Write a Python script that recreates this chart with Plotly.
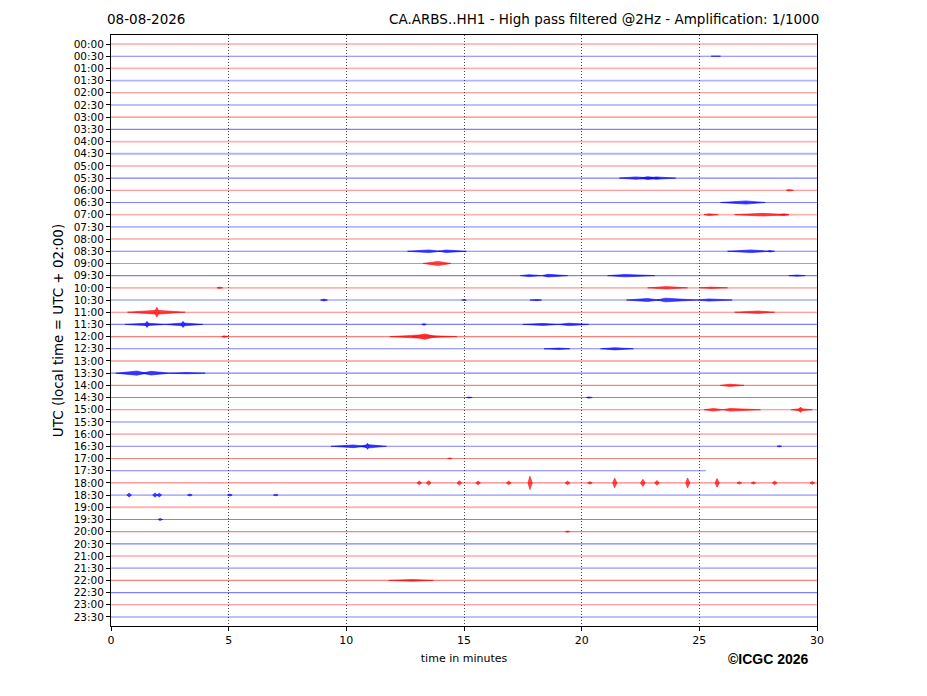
import plotly.graph_objects as go

# ---------------- data ----------------
row_labels = ["%02d:%02d" % (h, m) for h in range(24) for m in (0, 30)]
row_colors = ["red" if i % 2 == 0 else "blue" for i in range(48)]
# 1 = noisier trace (drawn lighter/thicker)
row_noise = [0, 0, 1, 1, 0, 0, 0, 0, 1, 1, 0, 0, 0, 0, 1, 1, 0, 0, 0, 0, 1, 0, 0, 0,
             0, 0, 1, 0, 0, 0, 0, 0, 1, 0, 0, 0, 0, 1, 1, 0, 0, 0, 0, 1, 0, 0, 0, 0]
row_end = [30.0] * 48
row_end[35] = 25.28  # 17:30 trace stops

# events: row index, start, peak, end (minutes), half amplitude (row units)
ev_row = [1,
          11, 11, 11, 12, 13, 14, 14, 14,
          17, 17, 17, 17, 18, 19, 19, 19, 19,
          20, 20, 20, 21, 21, 21, 21, 21, 21,
          22, 22, 22, 23, 23, 23, 23, 23, 23, 23,
          24, 24, 24, 25, 25, 27, 27, 27, 28, 29, 29,
          30, 30, 30, 30, 33, 33, 33, 33, 34,
          36, 36, 36, 36, 36, 36, 36, 36, 36, 36, 36, 36, 36, 36, 36, 36, 36,
          37, 37, 37, 37, 37, 37, 39, 40, 44]
ev_start = [25.5,
            21.6, 22.5, 22.9, 28.7, 25.9, 25.2, 26.5, 28.4,
            12.6, 13.9, 26.2, 27.9, 13.26, 17.4, 18.3, 21.1, 28.8,
            4.5, 22.8, 25.0, 8.9, 17.8, 14.9, 21.9, 23.2, 24.9,
            0.7, 1.85, 26.5, 0.6, 2.3, 1.45, 2.98, 13.2, 17.5, 19.0,
            4.7, 11.85, 12.8, 18.4, 20.8, 0.2, 1.3, 2.5, 25.9, 15.1, 20.2,
            25.2, 26.0, 28.9, 29.2, 9.35, 10.6, 10.83, 28.3, 14.3,
            13.0, 13.4, 14.7, 15.5, 16.8, 17.72, 19.3, 20.25, 21.32, 22.5, 23.1, 24.42, 25.67, 26.6, 27.2, 28.1, 29.7,
            0.67, 1.77, 1.95, 3.25, 4.95, 6.9, 2.0, 19.3, 11.8]
ev_peak = [25.7,
           22.3, 22.8, 23.15, 28.8, 26.98, 25.4, 27.7, 28.6,
           13.5, 14.23, 27.2, 28.0, 13.9, 17.76, 18.57, 21.85, 29.15,
           4.6, 23.6, 25.5, 9.05, 18.1, 15.0, 22.8, 23.55, 25.4,
           1.95, 1.95, 27.5, 1.53, 3.06, 1.53, 3.06, 13.3, 18.36, 19.46,
           4.8, 13.0, 13.34, 19.05, 21.4, 1.1, 1.7, 3.2, 26.3, 15.2, 20.3,
           25.6, 26.3, 29.3, 29.3, 10.3, 10.9, 10.9, 28.4, 14.4,
           13.1, 13.5, 14.8, 15.6, 16.9, 17.8, 19.4, 20.35, 21.4, 22.6, 23.2, 24.5, 25.75, 26.7, 27.3, 28.2, 29.8,
           0.77, 1.87, 2.05, 3.35, 5.05, 7.0, 2.08, 19.4, 12.8]
ev_end = [25.9,
          23.0, 23.3, 24.0, 29.0, 27.8, 25.8, 28.8, 28.8,
          14.0, 15.1, 28.0, 28.2, 14.45, 18.3, 19.4, 23.1, 29.5,
          4.75, 24.5, 26.2, 9.2, 18.3, 15.1, 23.3, 24.9, 26.4,
          3.15, 2.05, 28.2, 2.3, 3.9, 1.62, 3.15, 13.4, 19.0, 20.3,
          5.0, 14.7, 13.8, 19.5, 22.2, 1.5, 2.5, 4.0, 26.9, 15.35, 20.45,
          26.0, 27.6, 29.8, 29.4, 10.8, 11.7, 10.97, 28.5, 14.5,
          13.2, 13.6, 14.9, 15.7, 17.0, 17.9, 19.5, 20.45, 21.5, 22.7, 23.3, 24.6, 25.85, 26.8, 27.4, 28.3, 29.9,
          0.87, 1.97, 2.15, 3.45, 5.15, 7.1, 2.2, 19.5, 13.7]
ev_amp = [0.02,
          0.1, 0.12, 0.1, 0.06, 0.13, 0.07, 0.11, 0.07,
          0.11, 0.1, 0.11, 0.06, 0.17, 0.08, 0.11, 0.1, 0.05,
          0.06, 0.1, 0.06, 0.08, 0.05, 0.04, 0.12, 0.15, 0.09,
          0.16, 0.4, 0.1, 0.1, 0.12, 0.25, 0.25, 0.06, 0.08, 0.1,
          0.06, 0.12, 0.22, 0.06, 0.09, 0.17, 0.15, 0.05, 0.09, 0.04, 0.05,
          0.11, 0.11, 0.09, 0.22, 0.11, 0.14, 0.25, 0.05, 0.04,
          0.15, 0.18, 0.18, 0.15, 0.15, 0.55, 0.15, 0.1, 0.4, 0.3, 0.2, 0.4, 0.35, 0.1, 0.1, 0.15, 0.12,
          0.15, 0.18, 0.15, 0.08, 0.08, 0.06, 0.08, 0.05, 0.07]

x_ticks = [0, 5, 10, 15, 20, 25, 30]
date_text = "08-08-2026"
title_text = "CA.ARBS..HH1 - High pass filtered @2Hz - Amplification: 1/1000"
x_title = "time in minutes"
y_title = "UTC (local time = UTC + 02:00)"
credit = "©ICGC 2026"

# ---------------- figure ----------------
RGB = {"red": "255,0,0", "blue": "0,0,255"}
fig = go.Figure()

for col in ("red", "blue"):
    for noisy in (0, 1):
        xs, ys = [], []
        for i in range(48):
            if row_colors[i] == col and row_noise[i] == noisy:
                xs += [0, row_end[i], None]
                ys += [i, i, None]
        if not xs:
            continue
        fig.add_trace(go.Scatter(
            x=xs, y=ys, mode="lines", hoverinfo="skip", showlegend=False,
            line=dict(color="rgba(%s,%s)" % (RGB[col], 0.3 if noisy else 0.5),
                      width=1.8 if noisy else 1.1)))

for col in ("red", "blue"):
    xs, ys = [], []
    for r, s, p, e, a in zip(ev_row, ev_start, ev_peak, ev_end, ev_amp):
        if row_colors[r] != col:
            continue
        xs += [s, p, e, p, s, None]
        ys += [r, r - a, r, r + a, r, None]
    fig.add_trace(go.Scatter(
        x=xs, y=ys, mode="lines", fill="toself", hoverinfo="skip", showlegend=False,
        fillcolor="rgba(%s,0.7)" % RGB[col],
        line=dict(color="rgba(%s,0.7)" % RGB[col], width=0.8)))

font = "DejaVu Sans, Arial, sans-serif"
fig.update_layout(
    width=919, height=688,
    margin=dict(l=103, r=110, t=27, b=70, autoexpand=False),
    paper_bgcolor="white", plot_bgcolor="white",
    font=dict(family=font, color="black"),
    xaxis=dict(range=[0, 30], tickvals=x_ticks, ticktext=[str(v) for v in x_ticks],
               showgrid=True, gridcolor="#444444", griddash="1px,2px", gridwidth=1,
               zeroline=False, showline=True, linecolor="black", linewidth=1, mirror=True,
               ticks="outside", ticklen=4, tickcolor="black", tickfont=dict(size=11),
               automargin=False,
               title=dict(text=x_title, font=dict(size=11), standoff=8)),
    yaxis=dict(range=[47.74, -0.74], tickvals=list(range(48)), ticktext=row_labels,
               showgrid=False, zeroline=False, showline=True, linecolor="black", linewidth=1,
               mirror=True, ticks="outside", ticklen=4, tickcolor="black",
               tickfont=dict(size=10.5), automargin=False,
               title=dict(text=y_title, font=dict(size=13.5), standoff=6)),
    annotations=[
        dict(text=date_text, xref="paper", yref="paper", x=-0.008, y=1.0, yshift=16,
             xanchor="left", yanchor="middle", showarrow=False, font=dict(size=13.5)),
        dict(text=title_text, xref="paper", yref="paper", x=1.006, y=1.0, yshift=16,
             xanchor="right", yanchor="middle", showarrow=False, font=dict(size=13.5)),
        dict(text="<b>%s</b>" % credit, xref="paper", yref="paper", x=0.9915, y=0, yshift=-33,
             xanchor="right", yanchor="middle", showarrow=False,
             font=dict(size=14, family="Liberation Sans, Arial, sans-serif")),
    ],
)

fig.write_html("out.html")
